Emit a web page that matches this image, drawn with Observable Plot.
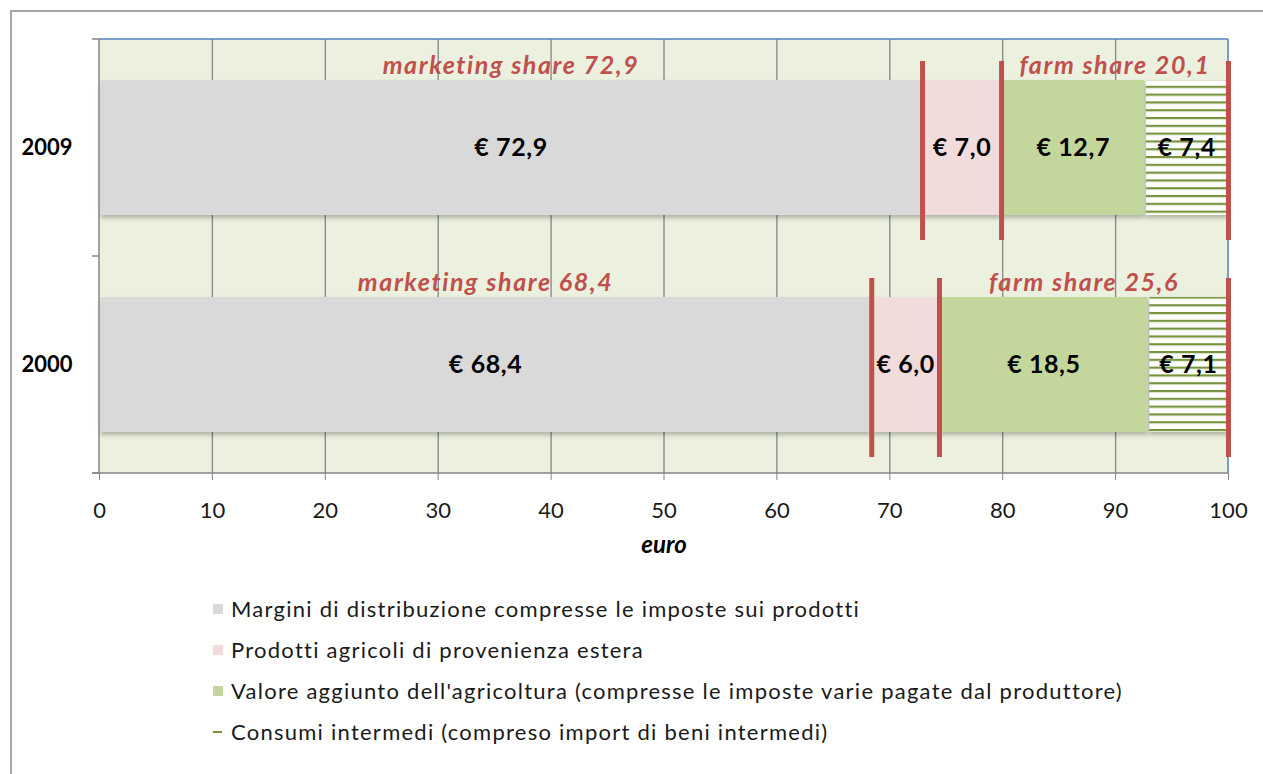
<!DOCTYPE html>
<html><head><meta charset="utf-8">
<script src="https://cdn.jsdelivr.net/npm/d3@7"></script>
<script src="https://cdn.jsdelivr.net/npm/@observablehq/plot@0.6"></script>
<style>
html,body{margin:0;padding:0;background:#fff;overflow:hidden;width:1263px;height:774px;}
#frame{position:absolute;left:10px;top:10px;width:1300px;height:800px;border:2px solid #a6a6a6;box-sizing:border-box;}
#chart{position:absolute;left:0;top:0;}
#legend{position:absolute;left:213px;top:588px;font-family:Lato,sans-serif;font-size:22px;letter-spacing:1.25px;color:#1a1a1a;}
.item{height:41px;display:flex;align-items:center;white-space:nowrap;}
.sw{width:10px;height:10px;margin-right:8px;flex:none;}
.dash{width:9px;height:2px;margin-right:9px;flex:none;background:#77933C;}
g[aria-label="bar"]{filter:drop-shadow(0px 3px 2px rgba(0,0,0,0.25));}
g[aria-description="annot"] text{letter-spacing:1.6px;}
g[aria-description="vals"] text{letter-spacing:0.6px;}
</style></head><body>
<div id="frame"></div>
<div id="chart"></div>
<div id="legend"></div>
<script>
const years = ["2009", "2000"];
const categories = [
  "Margini di distribuzione compresse le imposte sui prodotti",
  "Prodotti agricoli di provenienza estera",
  "Valore aggiunto dell'agricoltura (compresse le imposte varie pagate dal produttore)",
  "Consumi intermedi (compreso import di beni intermedi)"
];
const margini = [72.9, 68.4];
const esteri = [7.0, 6.0];
const valoreAggiunto = [12.7, 18.5];
const consumiIntermedi = [7.4, 7.1];
const marketingShare = [72.9, 68.4];
const farmShare = [20.1, 25.6];
const xTicks = [0, 10, 20, 30, 40, 50, 60, 70, 80, 90, 100];
const colors = ["#D9D9D9", "#F2DCDB", "#C3D69B", "url(#stripes)"];

const series = [margini, esteri, valoreAggiunto, consumiIntermedi];
const rows = years.flatMap((year, i) => categories.map((cat, k) => ({year, cat, value: series[k][i]})));
const ruleRows = years.flatMap((year, i) => [marketingShare[i], 100 - farmShare[i], 100].map(x => ({year, x})));
const fmt = v => d3.format(".1f")(v).replace(".", ",");

function defsMark() {
  const g = d3.create("svg:g");
  const p = g.append("defs").append("pattern")
    .attr("id", "stripes").attr("patternUnits", "userSpaceOnUse")
    .attr("width", 8).attr("height", 7.8);
  p.append("rect").attr("width", 8).attr("height", 7.8).attr("fill", "#fff");
  p.append("rect").attr("y", 0).attr("width", 8).attr("height", 2.2).attr("fill", "#77933C");
  return g.node();
}

function borders(index, scales, values, dims) {
  const {width, height, marginTop, marginRight, marginBottom, marginLeft} = dims;
  const x0 = marginLeft, x1 = width - marginRight, y0 = marginTop, y1 = height - marginBottom;
  const g = d3.create("svg:g");
  const line = (a, b, c, d, col, w) => g.append("line").attr("x1", a).attr("y1", b).attr("x2", c).attr("y2", d).attr("stroke", col).attr("stroke-width", w);
  line(x0, y0, x1, y0, "#4F81BD", 1.5);
  line(x1, y0, x1, y1, "#4F81BD", 1.5);
  line(x0, y0, x0, y1, "#868686", 1.5);
  line(x0 - 7, y1, x1, y1, "#868686", 1.5);
  for (let k = 0; k <= years.length; k++) {
    const yy = y0 + k * (y1 - y0) / years.length;
    line(x0 - 7, yy, x0, yy, "#868686", 1.5);
  }
  return g.node();
}

const chart = Plot.plot({
  width: 1263,
  height: 580,
  marginLeft: 99,
  marginRight: 35,
  marginTop: 39,
  marginBottom: 107,
  style: {fontFamily: "Lato, sans-serif", background: "transparent", color: "#1a1a1a", overflow: "visible"},
  x: {domain: [0, 100]},
  y: {domain: years, paddingInner: 0.38, paddingOuter: 0.19},
  color: {domain: categories, range: colors},
  marks: [
    defsMark,
    Plot.frame({fill: "#EBF1DE", stroke: "none"}),
    Plot.gridX(xTicks.slice(1, -1), {stroke: "#868686", strokeOpacity: 1, strokeWidth: 1.3}),
    Plot.barX(rows, Plot.stackX({x: "value", y: "year", fill: "cat", insetLeft: 1.5})),
    borders,
    Plot.ruleX(ruleRows, {x: "x", y1: "year", y2: "year", stroke: "#C0504D", strokeWidth: 5, insetTop: -19, insetBottom: -25}),
    Plot.text(rows, Plot.stackX({x: "value", y: "year", text: d => "€ " + fmt(d.value), fontWeight: "bold", fontSize: 25, fill: "#000", ariaDescription: "vals"})),
    Plot.text(years, {x: (d, i) => marketingShare[i] / 2, y: d => d, text: (d, i) => "marketing share " + fmt(marketingShare[i]), dy: -82, fill: "#C0504D", fontWeight: "bold", fontStyle: "italic", fontSize: 25, ariaDescription: "annot"}),
    Plot.text(years, {x: (d, i) => 100 - farmShare[i] / 2, y: d => d, text: (d, i) => "farm share " + fmt(farmShare[i]), dy: -82, fill: "#C0504D", fontWeight: "bold", fontStyle: "italic", fontSize: 25, ariaDescription: "annot"}),
    Plot.axisX({ticks: xTicks, tickSize: 7, tickPadding: 22, stroke: "#868686", fill: "#1a1a1a", fontSize: 22, label: null}),
    Plot.axisY({tickSize: 0, tickPadding: 27, fontWeight: "bold", fontSize: 22, fill: "#000", label: null}),
    Plot.text(["euro"], {frameAnchor: "bottom", dy: 79, text: d => d, fontWeight: "bold", fontStyle: "italic", fontSize: 24, fill: "#000"})
  ]
});
document.getElementById("chart").appendChild(chart);

const legend = document.getElementById("legend");
categories.forEach((c, k) => {
  const item = document.createElement("div");
  item.className = "item";
  const sw = document.createElement("span");
  if (k < 3) { sw.className = "sw"; sw.style.background = colors[k]; }
  else { sw.className = "dash"; }
  item.appendChild(sw);
  const t = document.createElement("span");
  t.textContent = c;
  item.appendChild(t);
  legend.appendChild(item);
});
</script>
</body></html>
